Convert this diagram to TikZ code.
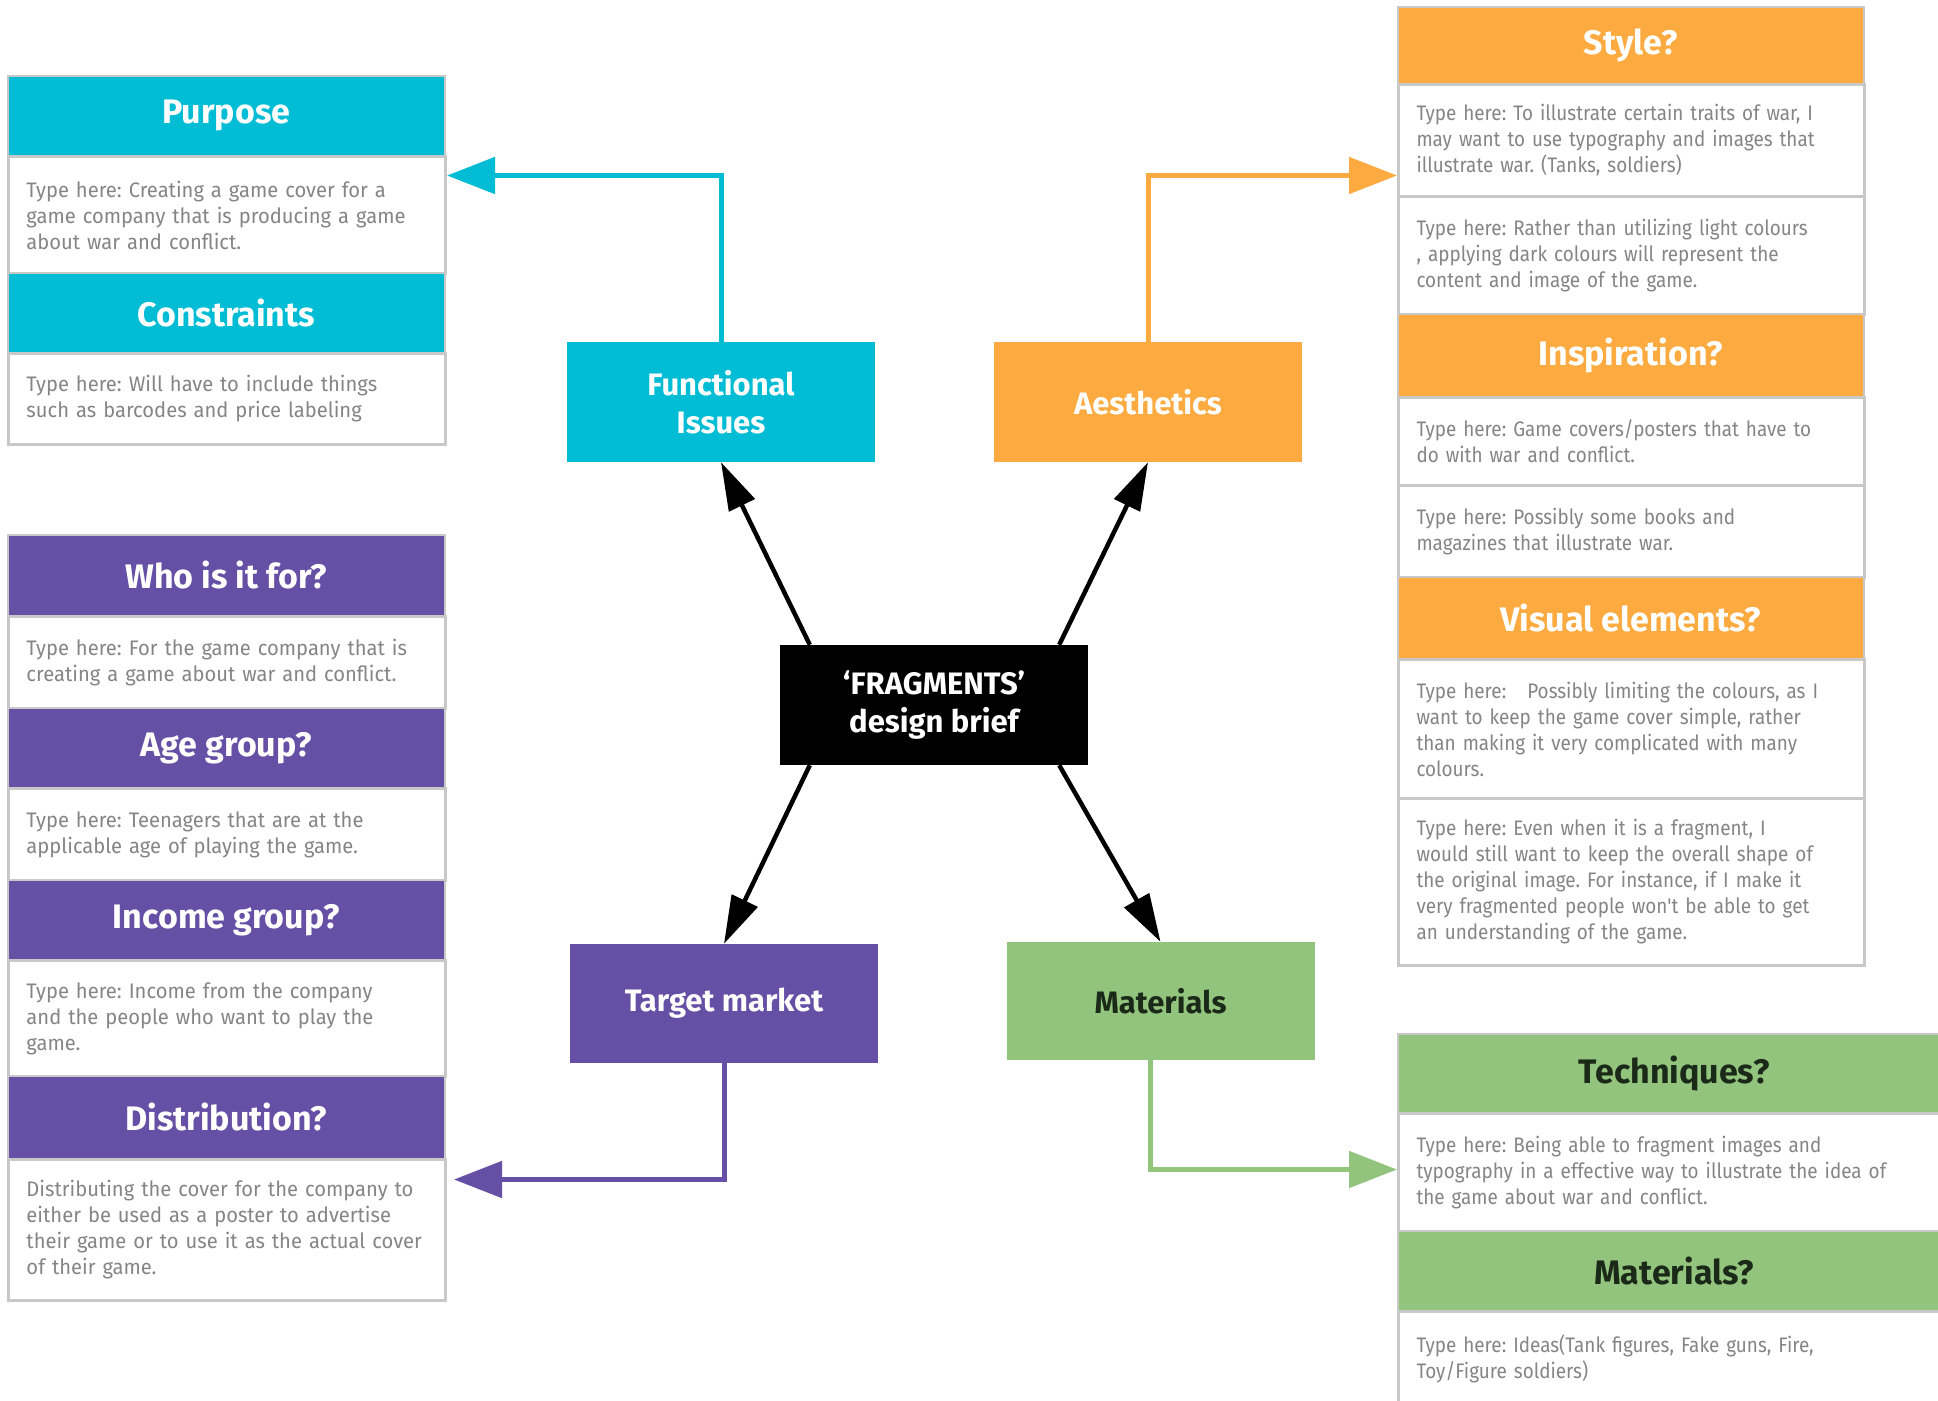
\documentclass[tikz,border=0pt]{standalone}
\usepackage{fontspec}
\setmainfont{Fira Sans}
\newfontfamily\leftnotefont[FakeStretch=0.96]{Fira Sans}
\newfontfamily\rightnotefont[FakeStretch=0.9]{Fira Sans}
\usepackage{xcolor}
\usetikzlibrary{arrows.meta}
\frenchspacing

\definecolor{funcblue}{HTML}{00BCD4}
\definecolor{aesorange}{HTML}{FDAA40}
\definecolor{mktpurple}{HTML}{6550A6}
\definecolor{matgreen}{HTML}{93C47D}
\definecolor{darkleaf}{HTML}{1B2A18}
\definecolor{rulegray}{HTML}{C8C8C8}
\definecolor{notegray}{HTML}{858585}

\tikzset{
  head/.style={anchor=north west, fill=#1, draw=rulegray, line width=1.5pt, inner sep=0pt,
    text=white, font=\bfseries\fontsize{34}{38}\selectfont},
  note/.style={anchor=north west, draw=rulegray, line width=3pt, fill=white, inner xsep=18pt,
    inner ysep=0pt, align=left, text=notegray},
  lhead/.style={head=#1, minimum width=437pt},
  lnote/.style={note, text width=401pt, font=\leftnotefont\fontsize{21}{26}\selectfont},
  rhead/.style={head=#1, minimum width=466pt},
  rnote/.style={note, text width=430pt, font=\rightnotefont\fontsize{21}{26}\selectfont},
  ghead/.style={head=matgreen, text=darkleaf, minimum width=553pt},
  gnote/.style={note, text width=517pt, font=\rightnotefont\fontsize{21}{26}\selectfont},
  topic/.style={fill=#1, minimum width=308pt, minimum height=120pt, inner sep=0pt, align=center,
    text=white, font=\bfseries\fontsize{31}{38}\selectfont},
  spoke/.style={line width=4.5pt, -{Triangle[length=48pt, width=28pt]}},
  link/.style={draw=#1, line width=5pt, -{Triangle[length=48pt, width=36pt]}},
}

\begin{document}
\begin{tikzpicture}[x=1pt, y=-1pt]
  \path[use as bounding box, fill=white] (0,0) rectangle (1938,1400);

  % functional issues column
  \node[lhead=funcblue, minimum height=80pt] (purposeH) at (7,75) {Purpose};
  \node[lnote, minimum height=117pt] (purposeT) at (7,155)
    {Type here: Creating a game cover for a\\ game company that is producing a game\\ about war and conflict.};
  \node[lhead=funcblue, minimum height=80pt] (constrH) at (7,272) {Constraints};
  \node[lnote, minimum height=91pt] (constrT) at (7,352)
    {Type here: Will have to include things\\ such as barcodes and price labeling};

  % target market column
  \node[lhead=mktpurple, minimum height=81pt] (whoH) at (7,534) {Who is it for?};
  \node[lnote, minimum height=92pt] (whoT) at (7,615)
    {Type here: For the game company that is\\ creating a game about war and conflict.};
  \node[lhead=mktpurple, minimum height=80pt] (ageH) at (7,707) {Age group?};
  \node[lnote, minimum height=92pt] (ageT) at (7,787)
    {Type here: Teenagers that are at the\\ applicable age of playing the game.};
  \node[lhead=mktpurple, minimum height=80pt] (incomeH) at (7,879) {Income group?};
  \node[lnote, minimum height=116pt] (incomeT) at (7,959)
    {Type here: Income from the company\\ and the people who want to play the\\ game.};
  \node[lhead=mktpurple, minimum height=83pt] (distH) at (7,1075) {Distribution?};
  \node[lnote, minimum height=141pt] (distT) at (7,1158)
    {Distributing the cover for the company to\\ either be used  as a poster to advertise\\ their game or to use it as the actual cover\\ of their game.};

  % aesthetics column
  \node[rhead=aesorange, minimum height=77pt] (styleH) at (1397,6) {Style?};
  \node[rnote, minimum height=112pt] (styleA) at (1397,83)
    {Type here: To illustrate certain traits of war, I\\ may want to use typography and images that\\ illustrate war. (Tanks, soldiers)};
  \node[rnote, minimum height=118pt] (styleB) at (1397,195)
    {Type here: Rather than utilizing  light colours\\ , applying dark colours will represent the\\ content and image of the game.};
  \node[rhead=aesorange, minimum height=83pt] (inspH) at (1397,313) {Inspiration?};
  \node[rnote, minimum height=88pt] (inspA) at (1397,396)
    {Type here: Game covers/posters that have to\\ do with war and conflict.};
  \node[rnote, minimum height=92pt] (inspB) at (1397,484)
    {Type here: Possibly some books and\\ magazines that illustrate war.};
  \node[rhead=aesorange, minimum height=82pt] (visH) at (1397,576) {Visual elements?};
  \node[rnote, minimum height=139pt] (visA) at (1397,658)
    {Type here:\quad Possibly limiting the colours, as I\\ want to keep the game cover simple, rather\\ than making it very complicated with many\\ colours.};
  \node[rnote, minimum height=167pt] (visB) at (1397,797)
    {Type here: Even when it is a fragment, I\\ would still want to keep the overall shape of\\ the original image. For instance, if I make it\\ very fragmented people won't be able to get\\ an understanding of the game.};

  % materials column
  \node[ghead, minimum height=79pt] (techH) at (1397,1033) {Techniques?};
  \node[gnote, minimum height=118pt] (techT) at (1397,1112)
    {Type here: Being able to fragment images and\\ typography in a effective way to illustrate the idea of\\ the game about war and conflict.};
  \node[ghead, minimum height=80pt] (matH) at (1397,1230) {Materials?};
  \node[gnote, minimum height=95pt] (matT) at (1397,1310)
    {Type here: Ideas(Tank figures, Fake guns, Fire,\\ Toy/Figure soldiers)};

  % brief and its four topics
  \node[topic=black] (hub) at (934,705) {‘FRAGMENTS’\\design brief};
  \node[topic=funcblue] (func) at (721,402) {Functional\\Issues};
  \node[topic=aesorange] (aes) at (1148,402) {Aesthetics};
  \node[topic=mktpurple, minimum height=119pt] (mkt) at (724,1003.5) {Target market};
  \node[topic=matgreen, text=darkleaf, minimum height=118pt] (mat) at (1160.5,1001) {Materials};

  \draw[spoke] ([xshift=30pt]hub.north west) -- (func.south);
  \draw[spoke] ([xshift=-29pt]hub.north east) -- (aes.south);
  \draw[spoke] ([xshift=30pt]hub.south west) -- (mkt.north);
  \draw[spoke] ([xshift=-29pt]hub.south east) -- (mat.north);

  % topics out to their columns
  \draw[link=funcblue] (func.north) |- ([yshift=39.5pt]purposeT.east);
  \draw[link=aesorange] (aes.north) |- ([yshift=-35pt]styleA.west);
  \draw[link=mktpurple] (mkt.south) |- ([xshift=7pt, yshift=50.5pt]distT.east);
  \draw[link=matgreen] ([xshift=-10pt]mat.south) |- ([yshift=3pt]techT.west);
\end{tikzpicture}
\end{document}
